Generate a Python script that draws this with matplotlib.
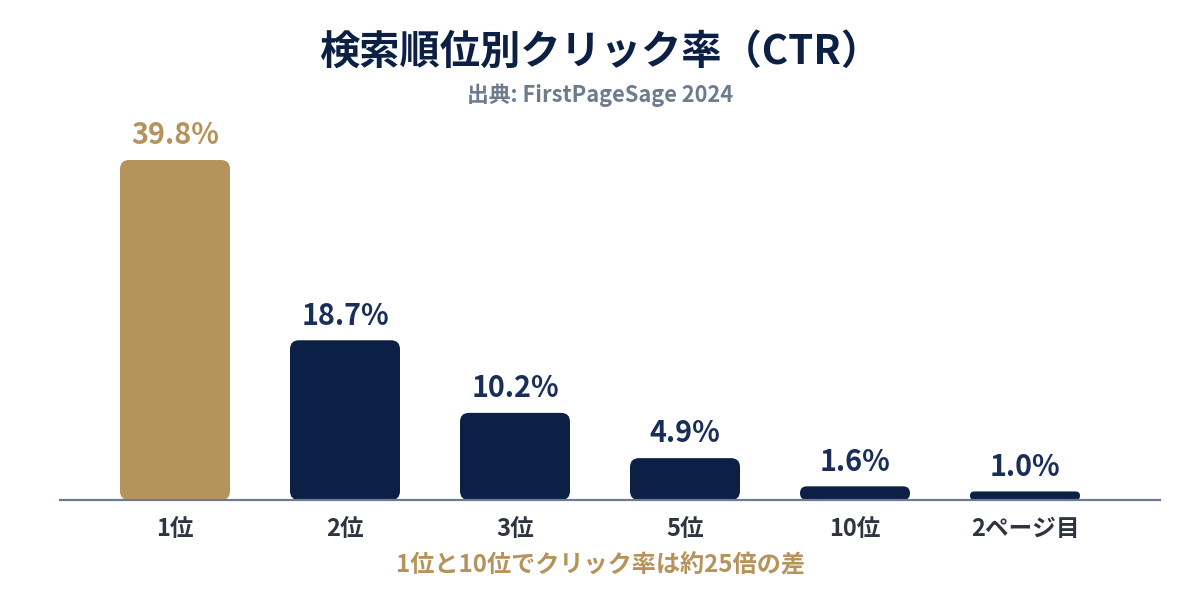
import matplotlib
matplotlib.use("Agg")
import matplotlib.pyplot as plt
from matplotlib.patches import FancyBboxPatch

plt.rcParams['font.family'] = ['Noto Sans CJK JP', 'DejaVu Sans']

categories = ["1位", "2位", "3位", "5位", "10位", "2ページ目"]
ctr_values = [39.8, 18.7, 10.2, 4.9, 1.6, 1.0]
value_labels = ["39.8%", "18.7%", "10.2%", "4.9%", "1.6%", "1.0%"]
title_text = "検索順位別クリック率（CTR）"
subtitle_text = "出典: FirstPageSage 2024"
note_text = "1位と10位でクリック率は約25倍の差"

GOLD = "#B5945C"
NAVY = "#0C1F45"
LABEL_NAVY = "#1A2E5A"
SLATE = "#6E7B8E"
DARK = "#2E3440"

W, H = 1200, 600
fig = plt.figure(figsize=(12, 6), dpi=100)
ax_left, ax_right, ax_bottom, ax_top = 60, 1160, 500, 100
ax = fig.add_axes([ax_left / W, (H - ax_bottom) / H,
                   (ax_right - ax_left) / W, (ax_bottom - ax_top) / H])

px_per_x = 170.0
xmin = -115 / px_per_x
xmax = (ax_right - ax_left - 115) / px_per_x
px_per_y = 340 / 39.8
ymax = (ax_bottom - ax_top) / px_per_y
ax.set_xlim(xmin, xmax)
ax.set_ylim(0, ymax)

bar_w = 110 / px_per_x
aspect = px_per_x / px_per_y
for i, v in enumerate(ctr_values):
    color = GOLD if i == 0 else NAVY
    h_px = v * px_per_y
    r_px = min(9.0, h_px / 2)
    r = r_px / px_per_x
    p = FancyBboxPatch((i - bar_w / 2, 0), bar_w, v,
                       boxstyle=f"round,pad=0,rounding_size={r}",
                       mutation_aspect=aspect,
                       facecolor=color, edgecolor="none", zorder=2)
    ax.add_patch(p)
    ax.annotate(value_labels[i], (i, v), xytext=(0, 7), textcoords="offset points",
                ha="center", va="bottom", fontsize=20.7, fontweight="bold",
                color=GOLD if i == 0 else LABEL_NAVY)

for s in ["top", "right", "left"]:
    ax.spines[s].set_visible(False)
ax.spines["bottom"].set_color(SLATE)
ax.spines["bottom"].set_linewidth(1.6)
ax.spines["bottom"].set_zorder(3)
ax.set_yticks([])
ax.set_xticks(range(len(categories)))
ax.set_xticklabels(categories, fontsize=17, fontweight="bold", color=DARK)
ax.tick_params(axis="x", length=0, pad=12)
ax.patch.set_alpha(0)

fig.text(0.5, 1 - 52 / H, title_text, ha="center", va="center",
         fontsize=29, fontweight="bold", color=NAVY)
fig.text(0.5, 1 - 95 / H, subtitle_text, ha="center", va="center",
         fontsize=15.7, fontweight="bold", color=SLATE)
fig.text(0.5, 1 - 566 / H, note_text, ha="center", va="center",
         fontsize=17.4, fontweight="bold", color=GOLD)

fig.savefig("out.png", dpi=100, facecolor="white")
